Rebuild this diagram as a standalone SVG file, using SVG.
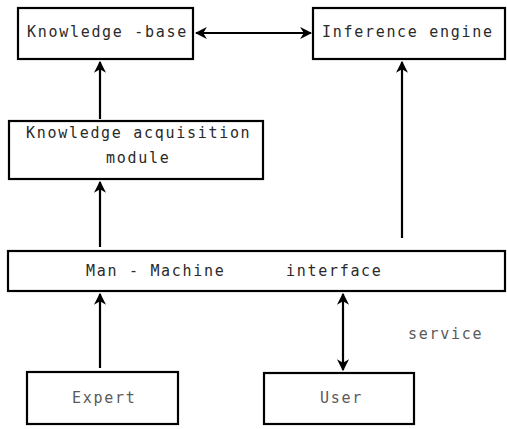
<svg xmlns="http://www.w3.org/2000/svg" width="507" height="429" viewBox="0 0 507 429">
<defs>
<marker id="ah" viewBox="0 0 10 10" refX="9" refY="5" markerWidth="5.5" markerHeight="5.5" orient="auto-start-reverse" markerUnits="strokeWidth">
<path d="M0,0 L10,5 L0,10 L3,5 z" fill="#000"/>
</marker>
</defs>
<style>
.box{fill:#fff;stroke:#000;stroke-width:2.2}
.t{font-family:"DejaVu Sans Mono","Liberation Mono",monospace;font-size:15px;letter-spacing:1.7px;fill:#2a2a2a}
.f{fill:#5a5a5a}
.c{stroke:#000;stroke-width:2.2;fill:none;marker-end:url(#ah)}
.d{marker-start:url(#ah)}
</style>
<rect width="507" height="429" fill="#fff"/>
<g id="knowledge-base">
<rect class="box" x="18" y="8" width="175" height="51"/>
<text class="t" x="27" y="37">Knowledge -base</text>
</g>
<g id="inference-engine">
<rect class="box" x="313" y="8" width="192" height="51"/>
<text class="t" x="322" y="37">Inference engine</text>
</g>
<g id="knowledge-acquisition">
<rect class="box" x="9" y="121" width="254" height="58"/>
<text class="t" x="26" y="138">Knowledge acquisition</text>
<text class="t" x="106" y="163">module</text>
</g>
<g id="man-machine-interface">
<rect class="box" x="8" y="251" width="497" height="40"/>
<text class="t" y="276"><tspan x="86">Man - Machine</tspan><tspan x="286">interface</tspan></text>
</g>
<g id="expert">
<rect class="box" x="27" y="372" width="151" height="52"/>
<text class="t f" x="72" y="403">Expert</text>
</g>
<g id="user">
<rect class="box" x="264" y="373" width="150" height="51"/>
<text class="t f" x="320" y="403">User</text>
</g>
<text class="t f" x="408" y="339">service</text>
<g id="connectors">
<line class="c d" x1="196" y1="33" x2="311" y2="33"/>
<line class="c" x1="100" y1="119" x2="100" y2="62"/>
<line class="c" x1="100" y1="247" x2="100" y2="182"/>
<line class="c" x1="402" y1="238" x2="402" y2="62"/>
<line class="c" x1="100" y1="368" x2="100" y2="294"/>
<line class="c d" x1="343" y1="294" x2="343" y2="370"/>
</g>
</svg>
